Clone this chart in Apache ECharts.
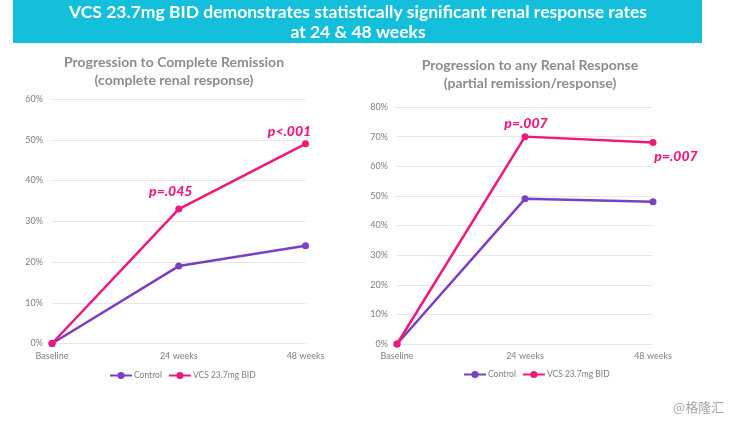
<!DOCTYPE html>
<html>
<head>
<meta charset="utf-8">
<style>
html, body { margin: 0; padding: 0; background: #fff; }
#chart { width: 732px; height: 421px; }
</style>
<script src="https://cdn.jsdelivr.net/npm/echarts@6/dist/echarts.min.js"></script>
</head>
<body>
<div id="chart"></div>
<script>
var categories = ["Baseline", "24 weeks", "48 weeks"];
var seriesNames = ["Control", "VCS 23.7mg BID"];

var leftControl = [0, 19, 24];
var leftVcs = [0, 33, 49];
var leftPValues = [null, "p=.045", "p<.001"];

var rightControl = [0, 49, 48];
var rightVcs = [0, 70, 68];
var rightPValues = [null, "p=.007", "p=.007"];

var PURPLE = "#7B3FC4";
var PINK = "#F0187A";
var FONT = "Lato, 'Noto Sans', sans-serif";

// 只给有p值的点加label
var vcsData = function (values, pValues, offsets) {
    return values.map(function (v, i) {
        if (!pValues[i]) return v;
        return {
            value: v,
            label: {
                show: true,
                position: "top",
                formatter: pValues[i],
                offset: offsets[i],
                color: PINK,
                fontFamily: FONT,
                fontSize: 14,
                fontWeight: 900,
                fontStyle: "italic"
            }
        };
    });
};

var makeLine = function (name, color, data, idx) {
    return {
        name: name,
        type: "line",
        xAxisIndex: idx,
        yAxisIndex: idx,
        data: data,
        smooth: false,
        symbol: "circle",
        symbolSize: 7,
        showSymbol: true,
        animation: false,
        lineStyle: { color: color, width: 2.5 },
        itemStyle: { color: color }
    };
};

var makeX = function (idx) {
    return {
        type: "category",
        gridIndex: idx,
        data: categories,
        boundaryGap: false,
        axisLine: { show: false },
        axisTick: { show: false },
        axisLabel: { color: "#7f7f7f", fontSize: 9, fontFamily: FONT, margin: 8, hideOverlap: false, showMinLabel: true, showMaxLabel: true }
    };
};

var makeY = function (idx, max) {
    return {
        type: "value",
        gridIndex: idx,
        min: 0,
        max: max,
        interval: 10,
        axisLine: { show: false },
        axisTick: { show: false },
        axisLabel: { color: "#7f7f7f", fontSize: 9, fontFamily: FONT, margin: 9, formatter: "{value}%" },
        splitLine: { lineStyle: { color: "#e6e6e6", width: 1 } }
    };
};

var makeLegend = function (left, top) {
    return {
        left: left,
        top: top,
        itemWidth: 22,
        itemHeight: 9,
        itemGap: 6,
        padding: 0,
        textStyle: { color: "#7f7f7f", fontSize: 8.5, fontFamily: FONT, padding: [0, 0, 0, -3] },
        data: seriesNames
    };
};

var chart = echarts.init(document.getElementById("chart"));
chart.setOption({
    backgroundColor: "#fff",
    title: [
        {
            text: "VCS 23.7mg BID demonstrates statistically significant renal response rates\nat 24 & 48 weeks",
            left: 353, top: -3, textAlign: "center",
            textStyle: { color: "#fff", fontFamily: FONT, fontSize: 17.5, fontWeight: "bold", lineHeight: 20 }
        },
        {
            text: "Progression to Complete Remission\n(complete renal response)",
            left: 169, top: 48, textAlign: "center",
            textStyle: { color: "#8c8c8c", fontFamily: FONT, fontSize: 14, fontWeight: "bold", lineHeight: 18 }
        },
        {
            text: "Progression to any Renal Response\n(partial remission/response)",
            left: 525, top: 51, textAlign: "center",
            textStyle: { color: "#8c8c8c", fontFamily: FONT, fontSize: 14, fontWeight: "bold", lineHeight: 18 }
        },
        {
            text: "@格隆汇",
            left: 668, top: 396,
            textStyle: { color: "#a6a6a6", fontFamily: "'Noto Sans CJK SC', sans-serif", fontSize: 13, fontWeight: "normal" }
        }
    ],
    graphic: [{
        type: "rect",
        z: -1,
        silent: true,
        shape: { x: 13, y: 0, width: 689, height: 43 },
        style: { fill: "#14BFDB" }
    }],
    grid: [
        { left: 52, top: 99, width: 253.5, height: 244.5 },
        { left: 397, top: 107, width: 256, height: 237 }
    ],
    xAxis: [makeX(0), makeX(1)],
    yAxis: [makeY(0, 60), makeY(1, 80)],
    // 两个图各画一个legend（手动定位）
    legend: [makeLegend(109, 371), makeLegend(463, 370)],
    series: [
        makeLine(seriesNames[0], PURPLE, leftControl, 0),
        makeLine(seriesNames[1], PINK, vcsData(leftVcs, leftPValues, [[0, 0], [-8, -2], [-16, 3]]), 0),
        makeLine(seriesNames[0], PURPLE, rightControl, 1),
        makeLine(seriesNames[1], PINK, vcsData(rightVcs, rightPValues, [[0, 0], [1, 2], [23, 29]]), 1)
    ]
});
</script>
</body>
</html>
